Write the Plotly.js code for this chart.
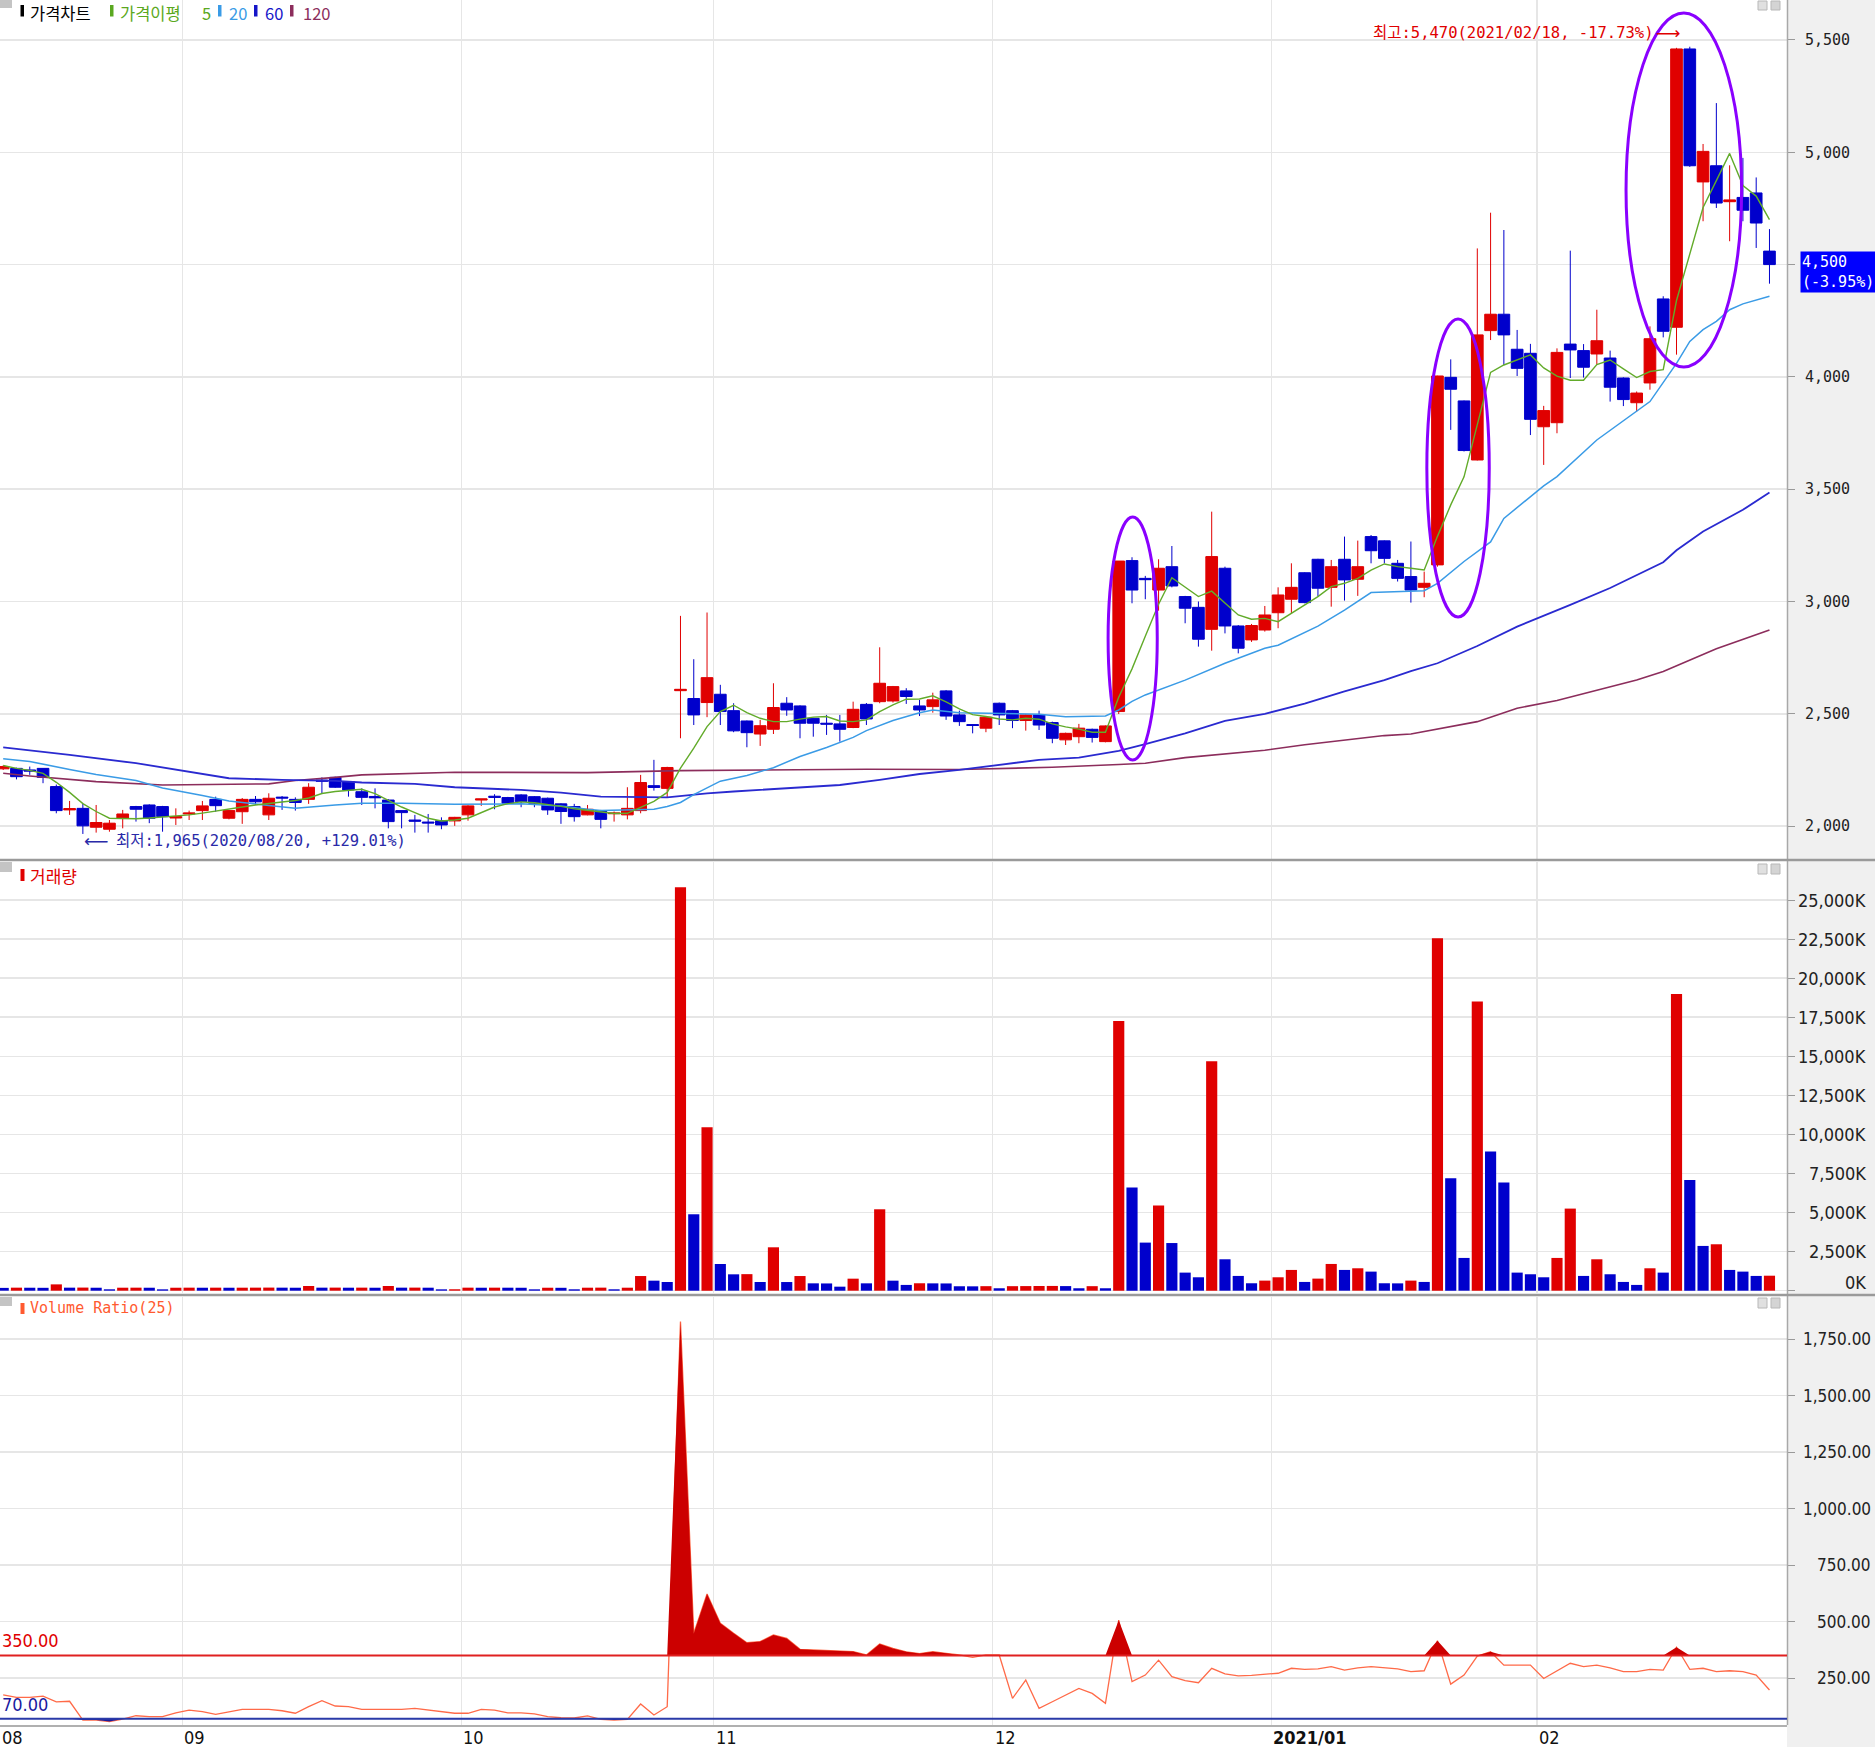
<!DOCTYPE html>
<html><head><meta charset="utf-8">
<script src="https://cdn.plot.ly/plotly-3.0.1.min.js"></script>
<style>html,body{margin:0;padding:0;background:#fff;}#chart{width:1875px;height:1747px;}</style>
</head><body><div id="chart"></div>
<script>
// ---------------- DATA ----------------
const dates = [
'2020-08-11','2020-08-12','2020-08-13','2020-08-14','2020-08-18','2020-08-19','2020-08-20','2020-08-21','2020-08-24','2020-08-25','2020-08-26','2020-08-27','2020-08-28','2020-08-31',
'2020-09-01','2020-09-02','2020-09-03','2020-09-04','2020-09-07','2020-09-08','2020-09-09','2020-09-10','2020-09-11','2020-09-14','2020-09-15','2020-09-16','2020-09-17','2020-09-18','2020-09-21','2020-09-22','2020-09-23','2020-09-24','2020-09-25','2020-09-28','2020-09-29',
'2020-10-05','2020-10-06','2020-10-07','2020-10-08','2020-10-12','2020-10-13','2020-10-14','2020-10-15','2020-10-16','2020-10-19','2020-10-20','2020-10-21','2020-10-22','2020-10-23','2020-10-26','2020-10-27','2020-10-28','2020-10-29','2020-10-30',
'2020-11-02','2020-11-03','2020-11-04','2020-11-05','2020-11-06','2020-11-09','2020-11-10','2020-11-11','2020-11-12','2020-11-13','2020-11-16','2020-11-17','2020-11-18','2020-11-19','2020-11-20','2020-11-23','2020-11-24','2020-11-25','2020-11-26','2020-11-27','2020-11-30',
'2020-12-01','2020-12-02','2020-12-03','2020-12-04','2020-12-07','2020-12-08','2020-12-09','2020-12-10','2020-12-11','2020-12-14','2020-12-15','2020-12-16','2020-12-17','2020-12-18','2020-12-21','2020-12-22','2020-12-23','2020-12-24','2020-12-28','2020-12-29','2020-12-30',
'2021-01-04','2021-01-05','2021-01-06','2021-01-07','2021-01-08','2021-01-11','2021-01-12','2021-01-13','2021-01-14','2021-01-15','2021-01-18','2021-01-19','2021-01-20','2021-01-21','2021-01-22','2021-01-25','2021-01-26','2021-01-27','2021-01-28','2021-01-29',
'2021-02-01','2021-02-02','2021-02-03','2021-02-04','2021-02-05','2021-02-08','2021-02-09','2021-02-10','2021-02-15','2021-02-16','2021-02-17','2021-02-18','2021-02-19','2021-02-22','2021-02-23','2021-02-24','2021-02-25','2021-02-26'];

const openP = [2255,2257,2250,2257,2176,2072,2079,1995,1986,2035,2087,2094,2087,2036,
2054,2069,2119,2035,2064,2119,2050,2129,2119,2119,2205,2217,2198,2153,2132,2116,2069,2027,2018,2024,2023,
2050,2116,2133,2127,2139,2131,2124,2099,2087,2050,2069,2055,2050,2069,2180,2168,2603,2568,2550,
2587,2514,2468,2410,2431,2547,2535,2480,2458,2455,2439,2542,2554,2557,2602,2535,2532,2602,2495,2452,2436,
2547,2514,2470,2495,2461,2384,2398,2431,2376,2510,3182,3103,3051,3155,3022,2974,2876,3148,2891,2829,2873,
2950,3010,3128,3188,3063,3188,3099,3289,3270,3170,3111,3063,3163,3998,3893,3630,4206,4279,4123,4105,
3778,3796,4146,4117,4102,4084,3995,3885,3973,4347,4221,5460,4868,4940,4780,4799,4819,4560];
const highP = [2270,2260,2265,2258,2185,2112,2100,2094,2027,2072,2090,2097,2090,2079,
2069,2112,2131,2072,2125,2134,2146,2134,2128,2191,2217,2220,2200,2168,2168,2120,2069,2050,2054,2039,2041,
2093,2121,2142,2130,2142,2134,2127,2102,2099,2094,2072,2065,2173,2228,2295,2264,2936,2743,2951,
2629,2547,2470,2473,2636,2574,2538,2482,2495,2495,2554,2548,2796,2624,2614,2562,2594,2606,2514,2452,2488,
2550,2517,2498,2514,2465,2416,2455,2434,2448,3180,3197,3114,3188,3247,3025,3000,3400,3155,2895,2900,2980,
3063,3170,3130,3190,3185,3289,3271,3296,3272,3185,3267,3133,4005,4078,3895,4572,4731,4654,4209,4147,
3871,4127,4562,4146,4299,4117,3998,3935,4225,4359,5465,5470,5037,5219,4942,4975,4888,4658];
const lowP = [2250,2208,2228,2191,2057,2050,1965,1971,1975,1990,2020,2013,1975,2005,
2027,2027,2064,2030,2010,2094,2027,2072,2069,2099,2146,2170,2131,2094,2079,1990,1990,1971,1971,1986,2001,
2024,2090,2075,2100,2084,2084,2050,2010,2020,2048,1990,2020,2030,2057,2158,2128,2391,2450,2485,
2450,2418,2351,2357,2410,2491,2391,2398,2406,2376,2436,2450,2547,2550,2544,2490,2505,2473,2446,2413,2418,
2450,2436,2425,2428,2369,2361,2369,2372,2373,2499,2992,3010,2959,3063,2903,2799,2781,2858,2769,2820,2866,
2881,2947,2992,3022,2977,3004,3025,3170,3170,3089,2995,3019,3155,3764,3668,3628,4164,4053,4004,3741,
3608,3749,3995,3997,4054,3890,3870,3845,3943,4176,4099,4935,4693,4752,4604,4693,4574,4415];
const closeP = [2265,2220,2245,2217,2069,2078,2001,2016,2013,2054,2075,2035,2042,2042,
2058,2090,2091,2069,2119,2108,2124,2125,2105,2173,2200,2173,2161,2128,2126,2020,2060,2022,2014,2005,2039,
2090,2121,2128,2102,2109,2102,2072,2065,2042,2075,2030,2058,2079,2194,2172,2261,2609,2495,2661,
2510,2424,2416,2447,2528,2517,2458,2458,2454,2431,2520,2477,2636,2621,2577,2517,2562,2490,2465,2448,2485,
2495,2470,2495,2450,2391,2413,2436,2395,2446,3180,3051,3097,3148,3069,2970,2832,3200,2891,2792,2893,2940,
3029,3063,2995,3059,3155,3096,3155,3226,3192,3103,3051,3081,4004,3945,3672,4187,4279,4187,4038,3811,
3850,4109,4120,4043,4161,3954,3899,3928,4170,4203,5460,4940,5004,4774,4788,4742,4685,4500];

// volume in thousands of shares (K)
const volumeK = [180,195,190,185,405,195,200,190,90,192,195,190,88,190,
195,190,195,190,193,196,199,195,190,300,195,198,192,196,190,300,195,198,192,88,92,
195,190,195,192,188,88,190,186,90,192,196,90,192,939,642,557,25818,4891,10460,
1709,1048,1060,557,2777,555,939,472,465,258,770,472,5210,642,370,476,470,465,284,280,290,
156,290,295,300,305,295,156,290,156,17263,6597,3078,5446,3050,1158,859,14682,2011,945,476,646,
859,1329,561,774,1712,1329,1435,1222,476,470,646,561,22552,7194,2097,18500,8901,6917,1158,1052,
859,2097,5254,945,2011,1052,561,370,1435,1158,18990,7088,2865,2971,1329,1222,945,960];

// 5-day price moving average, read per day
const ma5 = [2270,2257,2248,2235,2195,2150,2100,2065,2035,2034,2033,2036,2040,2045,
2050,2058,2068,2075,2085,2094,2100,2106,2114,2125,2145,2154,2160,2164,2145,2115,2085,2060,2035,2023,2027,
2035,2060,2085,2100,2108,2104,2097,2088,2077,2071,2063,2056,2057,2085,2110,2150,2258,2347,2443,
2510,2538,2505,2480,2465,2465,2476,2485,2488,2468,2465,2473,2510,2540,2565,2566,2580,2553,2522,2496,2488,
2477,2473,2480,2476,2455,2442,2432,2418,2418,2574,2700,2845,2988,3106,3066,3022,3046,2995,2940,2921,2925,
2910,2947,2985,3022,3066,3081,3103,3140,3167,3155,3148,3140,3290,3430,3555,3790,4020,4053,4075,4098,
4040,4003,3985,3985,4055,4075,4036,3997,4024,4032,4340,4545,4754,4874,4995,4852,4805,4700];

// 20 / 60 / 120-day averages, read at sampled days
const ma20Dates = ['2020-08-11','2020-08-13','2020-08-19','2020-08-21','2020-08-26','2020-08-28','2020-09-02','2020-09-04','2020-09-09','2020-09-11','2020-09-16','2020-09-18','2020-09-23','2020-09-25','2020-09-29','2020-10-12','2020-10-15','2020-10-19','2020-10-20','2020-10-26','2020-10-27','2020-10-28','2020-10-29','2020-11-02','2020-11-04','2020-11-06','2020-11-10','2020-11-12','2020-11-16','2020-11-17','2020-11-19','2020-11-23','2020-11-24','2020-11-26','2020-12-01','2020-12-04','2020-12-08','2020-12-11','2020-12-14','2020-12-15','2020-12-16','2020-12-21','2020-12-24','2020-12-30','2021-01-04','2021-01-07','2021-01-11','2021-01-13','2021-01-19','2021-01-20','2021-01-22','2021-01-26','2021-01-27','2021-02-01','2021-02-02','2021-02-05','2021-02-15','2021-02-17','2021-02-18','2021-02-19','2021-02-22','2021-02-23','2021-02-24','2021-02-26'];
const ma20Vals = [2300,2288,2252,2230,2203,2170,2136,2112,2092,2079,2094,2102,2102,2099,2097,2099,2090,2075,2069,2075,2087,2105,2140,2200,2225,2260,2310,2350,2395,2425,2470,2505,2517,2505,2502,2498,2487,2490,2517,2555,2584,2650,2725,2792,2805,2890,2962,3040,3048,3081,3178,3265,3370,3515,3556,3719,3890,4060,4158,4210,4247,4299,4325,4359];

const ma60Dates = ['2020-08-11','2020-08-19','2020-08-26','2020-09-01','2020-09-04','2020-09-10','2020-09-16','2020-09-18','2020-09-24','2020-09-29','2020-10-12','2020-10-15','2020-10-20','2020-10-27','2020-10-30','2020-11-03','2020-11-05','2020-11-11','2020-11-13','2020-11-18','2020-11-23','2020-11-26','2020-12-01','2020-12-04','2020-12-09','2020-12-14','2020-12-16','2020-12-21','2020-12-24','2020-12-30','2021-01-06','2021-01-11','2021-01-14','2021-01-18','2021-01-20','2021-01-25','2021-01-28','2021-02-01','2021-02-03','2021-02-08','2021-02-16','2021-02-17','2021-02-19','2021-02-24','2021-02-26'];
const ma60Vals = [2350,2317,2280,2243,2213,2206,2201,2194,2188,2173,2161,2149,2131,2128,2146,2154,2161,2173,2183,2206,2232,2250,2272,2295,2305,2335,2365,2413,2468,2500,2545,2600,2650,2690,2725,2802,2888,2935,2985,3060,3175,3228,3312,3408,3485];

const ma120Dates = ['2020-08-11','2020-08-13','2020-08-21','2020-08-28','2020-09-09','2020-09-11','2020-09-16','2020-09-18','2020-09-29','2020-10-19','2020-10-28','2020-11-04','2020-11-17','2020-11-26','2020-12-07','2020-12-14','2020-12-16','2020-12-21','2020-12-24','2020-12-30','2021-01-06','2021-01-11','2021-01-14','2021-01-18','2021-01-20','2021-01-25','2021-01-28','2021-02-02','2021-02-05','2021-02-10','2021-02-16','2021-02-18','2021-02-22','2021-02-26'];
const ma120Vals = [2235,2223,2198,2183,2188,2203,2217,2228,2240,2238,2247,2250,2253,2252,2262,2274,2280,2305,2322,2338,2362,2382,2403,2410,2432,2465,2525,2559,2605,2650,2688,2740,2790,2873];

// Volume Ratio(25), read per day
const vr = [175,164,164,170,144,147,64,64,57,68,83,79,79,96,
108,101,89,101,111,111,111,105,94,123,150,126,123,111,111,111,111,116,108,101,94,
94,111,108,96,96,91,79,74,73,82,67,64,67,135,86,123,1827,447,622,
492,448,406,411,440,425,377,374,371,370,367,352,400,381,366,358,366,359,352,341,352,
352,160,241,116,145,175,204,182,138,506,234,263,329,256,238,229,293,268,259,262,268,
271,293,288,290,300,285,295,300,295,290,278,282,415,223,263,347,366,307,307,307,
248,282,315,300,307,295,278,278,288,285,386,288,293,278,282,278,263,197];
const vrLevels = {upper:350, lower:70};

const priceTicks = [2000,2500,3000,3500,4000,4500,5000,5500];
const volTicksK = [0,2500,5000,7500,10000,12500,15000,17500,20000,22500,25000];
const vrTicks = [250,500,750,1000,1250,1500,1750];
const lastInfo = {price:'4,500', change:'(-3.95%)'};
const highNote = '최고:5,470(2021/02/18, -17.73%)';
const lowNote = '최저:1,965(2020/08/20, +129.01%)';
const highlights = [ // circled areas: [first day, last day, low price, high price]
  ['2020-12-11','2020-12-17',2294,3376],
  ['2021-01-19','2021-01-26',2931,4258],
  ['2021-02-09','2021-02-24',4044,5620]];

// ---------------- BUILD ----------------
const N = dates.length;
const xi = dates.map((d,i)=>i);
const di = d => dates.indexOf(d);
const RED = '#e00000', BLUE = '#0000cc';
const PR = 1787, PB = 1725;
const px = x => x/PR, py = y => 1 - y/PB;

const bounds = [], monthLab = [{x:-0.24, t:dates[0].slice(5,7)}];
for (let i=1;i<N;i++){
  if (dates[i].slice(0,7)!==dates[i-1].slice(0,7)){
    bounds.push(i-0.5);
    const yr = dates[i].slice(0,4)!==dates[i-1].slice(0,4);
    monthLab.push({x:i-0.5, t: yr ? '<b>'+dates[i].slice(0,4)+'/'+dates[i].slice(5,7)+'</b>' : dates[i].slice(5,7)});
  }
}
const volColors = volumeK.map((v,i)=> i===0 ? BLUE : (v>volumeK[i-1] ? RED : BLUE));
const fmt = v => v.toLocaleString('en-US');

const traces = [
  {type:'candlestick', x:xi, open:openP, high:highP, low:lowP, close:closeP, xaxis:'x', yaxis:'y',
   increasing:{line:{color:RED,width:1}, fillcolor:RED}, decreasing:{line:{color:BLUE,width:1}, fillcolor:BLUE},
   whiskerwidth:0, hoverinfo:'skip'},
  {type:'scatter', mode:'lines', x:ma120Dates.map(di), y:ma120Vals, yaxis:'y', line:{color:'#8c2d5c',width:1.6}, hoverinfo:'skip'},
  {type:'scatter', mode:'lines', x:ma60Dates.map(di), y:ma60Vals, yaxis:'y', line:{color:'#2a2ad0',width:1.8}, hoverinfo:'skip'},
  {type:'scatter', mode:'lines', x:ma20Dates.map(di), y:ma20Vals, yaxis:'y', line:{color:'#3a9be6',width:1.5}, hoverinfo:'skip'},
  {type:'scatter', mode:'lines', x:xi, y:ma5, yaxis:'y', line:{color:'#62ab2a',width:1.4}, hoverinfo:'skip'},
  {type:'bar', x:xi, y:volumeK, yaxis:'y2', marker:{color:volColors, line:{width:0}}, hoverinfo:'skip'},
  {type:'scatter', mode:'lines', x:xi, y:vr, yaxis:'y3', line:{color:'#ff6a48',width:1.3}, hoverinfo:'skip'},
  {type:'scatter', mode:'lines', x:xi, y:xi.map(()=>vrLevels.upper), yaxis:'y3', line:{width:0}, hoverinfo:'skip'},
  {type:'scatter', mode:'lines', x:xi, y:vr.map(v=>Math.max(v,vrLevels.upper)), yaxis:'y3', line:{width:0}, fill:'tonexty', fillcolor:'#cc0000', hoverinfo:'skip'},
  {type:'scatter', mode:'lines', x:xi, y:xi.map(()=>vrLevels.lower), yaxis:'y3', line:{width:0}, hoverinfo:'skip'},
  {type:'scatter', mode:'lines', x:xi, y:vr.map(v=>Math.min(v,vrLevels.lower)), yaxis:'y3', line:{width:0}, fill:'tonexty', fillcolor:'#1a1a9a', hoverinfo:'skip'}
];

const GRID = '#e6e6e6';
const condensed = 'Liberation Sans Narrow, DejaVu Sans Condensed, DejaVu Sans Mono';
const KR = 'Noto Sans CJK KR';
const shapes = [
  {type:'rect', xref:'paper', yref:'paper', x0:px(1787), x1:px(1875), y0:py(1747), y1:1, fillcolor:'#f0f0f0', line:{width:0}, layer:'below'},
  {type:'line', xref:'paper', yref:'paper', x0:px(1787.5), x1:px(1787.5), y0:0, y1:1, line:{color:'#a8a8a8', width:1.5}},
  {type:'line', xref:'paper', yref:'paper', x0:0, x1:px(1875), y0:py(860), y1:py(860), line:{color:'#9a9a9a', width:2.5}},
  {type:'line', xref:'paper', yref:'paper', x0:0, x1:px(1875), y0:py(1295), y1:py(1295), line:{color:'#9a9a9a', width:2.5}},
  {type:'line', xref:'paper', yref:'paper', x0:0, x1:px(1787), y0:py(1726), y1:py(1726), line:{color:'#b0b0b0', width:2}},
  {type:'line', xref:'paper', yref:'y3', x0:0, x1:1, y0:vrLevels.upper, y1:vrLevels.upper, line:{color:'#e02020', width:2}},
  {type:'line', xref:'paper', yref:'y3', x0:0, x1:1, y0:vrLevels.lower, y1:vrLevels.lower, line:{color:'#2a3aa8', width:2}}
];
highlights.forEach(h=>shapes.push({type:'circle', xref:'x', yref:'y', x0:di(h[0])+0.2, x1:di(h[1])-0.1, y0:h[2], y1:h[3], line:{color:'#8a00ff', width:3}}));
[[0,8],[862,872],[1297,1306]].forEach(([a,b])=>{
  shapes.push({type:'rect', xref:'paper', yref:'paper', x0:0, x1:px(12), y0:py(b), y1:py(a), fillcolor:'#c4c4c4', line:{width:0}});
});
[[1,10],[864,874],[1298,1308]].forEach(([a,b])=>{
  shapes.push({type:'rect', xref:'paper', yref:'paper', x0:px(1758), x1:px(1767), y0:py(b), y1:py(a), fillcolor:'#e0e0e0', line:{color:'#b8b8b8', width:1}});
  shapes.push({type:'rect', xref:'paper', yref:'paper', x0:px(1771), x1:px(1780), y0:py(b), y1:py(a), fillcolor:'#d4d4d4', line:{color:'#b8b8b8', width:1}});
});
const legendItems = [
  {mark:20.5, text:'가격차트', tx:28, color:'#000000'},
  {mark:110, text:'가격이평', tx:118, color:'#5aa820', extra:{text:'5', tx:200}},
  {mark:218, text:'20', tx:227, color:'#3a9be6'},
  {mark:254, text:'60', tx:263, color:'#1515c8'},
  {mark:290, text:'120', tx:301, color:'#8c2d5c'}];
legendItems.forEach(it=>shapes.push({type:'rect', xref:'paper', yref:'paper', x0:px(it.mark), x1:px(it.mark+3.5), y0:py(16.5), y1:py(5), fillcolor:it.color, line:{width:0}}));
shapes.push({type:'rect', xref:'paper', yref:'paper', x0:px(20.5), x1:px(24.5), y0:py(881), y1:py(869), fillcolor:RED, line:{width:0}});
shapes.push({type:'rect', xref:'paper', yref:'paper', x0:px(20.5), x1:px(24.5), y0:py(1314), y1:py(1303), fillcolor:'#ff5a30', line:{width:0}});

const annotations = [];
legendItems.forEach(it=>{
  annotations.push({xref:'paper', yref:'paper', x:px(it.tx), y:py(13), xanchor:'left', yanchor:'middle', showarrow:false,
    font:{family:KR, size:16.5, color:it.color}, text:it.text});
  if (it.extra) annotations.push({xref:'paper', yref:'paper', x:px(it.extra.tx), y:py(13), xanchor:'left', yanchor:'middle', showarrow:false,
    font:{family:KR, size:16.5, color:it.color}, text:it.extra.text});
});
annotations.push(
  {xref:'paper', yref:'paper', x:px(28), y:py(875), xanchor:'left', yanchor:'middle', showarrow:false,
   font:{family:KR, size:17, color:RED}, text:'거래량'},
  {xref:'paper', yref:'paper', x:px(28), y:py(1308), xanchor:'left', yanchor:'middle', showarrow:false,
   font:{family:'DejaVu Sans Mono', size:15, color:'#ff5a30'}, text:'Volume Ratio(25)'},
  {xref:'paper', yref:'paper', x:px(1655), y:py(33), xanchor:'right', yanchor:'middle', showarrow:false,
   font:{family:'DejaVu Sans Mono, '+KR, size:15.5, color:RED}, text:highNote},
  {xref:'paper', yref:'paper', x:px(1654), y:py(33), xanchor:'left', yanchor:'middle', showarrow:false,
   font:{family:'DejaVu Sans', size:17, color:RED}, text:'⟶'},
  {xref:'paper', yref:'paper', x:px(82), y:py(841), xanchor:'left', yanchor:'middle', showarrow:false,
   font:{family:'DejaVu Sans', size:17, color:'#2a2aa8'}, text:'⟵'},
  {xref:'paper', yref:'paper', x:px(114), y:py(841), xanchor:'left', yanchor:'middle', showarrow:false,
   font:{family:'DejaVu Sans Mono, '+KR, size:15.5, color:'#2a2aa8'}, text:lowNote},
  {xref:'paper', yref:'paper', x:px(1800), y:py(272), xanchor:'left', yanchor:'middle', showarrow:false, align:'left',
   bgcolor:'#0000ff', borderpad:1, font:{family:'DejaVu Sans Mono', size:15, color:'#ffffff'}, text:lastInfo.price+'<br>'+lastInfo.change},
  {xref:'paper', yref:'y3', x:0, y:vrLevels.upper, xanchor:'left', yanchor:'bottom', yshift:2, showarrow:false,
   font:{family:condensed, size:18, color:'#e00000'}, text:vrLevels.upper.toFixed(2)},
  {xref:'paper', yref:'y3', x:0, y:vrLevels.lower, xanchor:'left', yanchor:'bottom', yshift:2, showarrow:false,
   font:{family:condensed, size:18, color:'#1a1aa0'}, text:vrLevels.lower.toFixed(2)}
);
monthLab.forEach(m=>annotations.push({xref:'x', yref:'paper', x:m.x, y:py(1737), xanchor:'left', yanchor:'middle', showarrow:false,
  font:{family:condensed, size:18, color:'#111'}, text:m.t}));
volTicksK.forEach(v=>annotations.push({xref:'paper', yref:'y2', x:px(1868), y:v, xanchor:'right', yanchor:'middle', showarrow:false,
  yshift: v===0 ? 8 : 0, font:{family:condensed, size:18, color:'#222'}, text:fmt(v)+'K'}));
vrTicks.forEach(v=>annotations.push({xref:'paper', yref:'y3', x:px(1873), y:v, xanchor:'right', yanchor:'middle', showarrow:false,
  font:{family:condensed, size:17, color:'#222'}, text:v.toLocaleString('en-US',{minimumFractionDigits:2})}));

const yCommon = {side:'right', anchor:'x', ticks:'outside', ticklen:7, tickcolor:'#999', gridcolor:GRID, gridwidth:1.5, zeroline:false, showline:false, fixedrange:true};
const layout = {
  width:1875, height:1747, margin:{l:0,r:88,t:0,b:22,pad:0},
  paper_bgcolor:'#ffffff', plot_bgcolor:'#ffffff', showlegend:false,
  font:{family:'DejaVu Sans Mono', size:15, color:'#222'},
  boxgap:0.12, boxgroupgap:0, bargap:0.16,
  xaxis:{domain:[0,1], range:[-0.24,134.32], anchor:'y3', showticklabels:false, tickvals:bounds, ticks:'',
         showgrid:true, gridcolor:GRID, gridwidth:1.5, zeroline:false, showline:false, rangeslider:{visible:false}, fixedrange:true},
  yaxis:Object.assign({}, yCommon, {domain:[1-859/PB,1], range:[1853.5,5678], tickvals:priceTicks,
         ticktext:priceTicks.map(v=> v===4500 ? '' : fmt(v)), ticklabelstandoff:7, tickfont:{family:'DejaVu Sans Mono', size:15, color:'#222'}}),
  yaxis2:Object.assign({}, yCommon, {domain:[1-1293/PB,1-862/PB], range:[-147,27432], tickvals:volTicksK, showticklabels:false}),
  yaxis3:Object.assign({}, yCommon, {domain:[0,1-1297/PB], range:[42,1936], tickvals:vrTicks, showticklabels:false}),
  shapes:shapes, annotations:annotations
};
Plotly.newPlot('chart', traces, layout, {displayModeBar:false, staticPlot:true});
</script></body></html>
